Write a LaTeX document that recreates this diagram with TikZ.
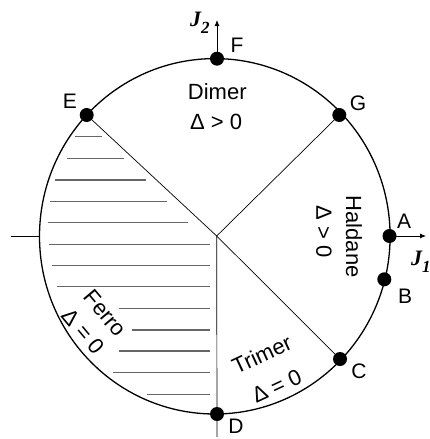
\documentclass[tikz,border=0pt]{standalone}
\usepackage{fontspec}
\setmainfont{Liberation Sans}
\newfontfamily\jfont{Liberation Serif}
\usetikzlibrary{arrows.meta}
\begin{document}
\begin{tikzpicture}[x=1pt,y=-1pt,
  rim/.style={line width=1.3pt,black},
  divider/.style={line width=0.7pt,black},
  hatch/.style={line width=1.1pt,black!60},
  dot/.style={circle,fill=black,inner sep=0pt,minimum size=14pt},
  ptlabel/.style={font=\fontsize{21}{25}\selectfont,inner sep=0pt},
  region/.style={font=\fontsize{22}{26}\selectfont,inner sep=0pt,align=center},
  axislabel/.style={font=\jfont\bfseries\itshape\fontsize{22}{26}\selectfont,inner sep=0pt,anchor=base west},
  axis/.style={line width=0.8pt,-{Latex[length=6pt,width=5pt]}}]
\clip (0,0) rectangle (430,439);
\useasboundingbox (0,0) rectangle (430,439);
% centre and rim
\coordinate (O) at (216.7,236);
\coordinate (R) at (214.8,236.3);
% hatching of the Ferro region
\foreach \y/\xa/\xb in {136.7/75/101.7, 158.3/66.7/124, 180/55/145.7, 201.7/50/166.7,
  222.7/47.7/188.3, 244.3/49.3/210, 265.7/51.7/210, 286.7/56.7/210, 308.3/119.3/210,
  330/131.7/210, 351/119.3/210, 372.7/113.3/210, 394.3/146.7/210}
  {\draw[hatch] (\xa,\y) -- (\xb,\y);}
\draw[rim] (R) ellipse [x radius=175.3, y radius=177.7];
% points on the rim
\node[dot] (E) at (86.7,115) {};
\node[dot] (G) at (339.3,115) {};
\node[dot] (C) at (340,359) {};
\node[dot] (B) at (384.3,279.3) {};
\node[dot] (A) at (389.5,236) {};
\node[dot] (F) at (217,58.7) {};
\node[dot] (D) at (217,414) {};
\coordinate (Dend) at (217,437);
\coordinate (J2tip) at (217,20);
\coordinate (J1tip) at (426,236);
\coordinate (Lstart) at (11,236);
\coordinate (Lend) at (39.5,236);
% dividing lines
\draw[divider] (E.center) -- (O) -- (C.center);
\draw[divider] (G.center) -- (O);
\draw[divider] (O) -- (Dend);
\draw[line width=0.8pt] (Lstart) -- (Lend);
% axes
\draw[axis] (F.center) -- (J2tip);
\draw[axis] (A.center) -- (J1tip);
\node[axislabel] (J2) at (190,26) {J\raisebox{-7pt}{\fontsize{17}{19}\selectfont 2}};
\node[axislabel] (J1) at (411,265) {J\raisebox{-7pt}{\fontsize{17}{19}\selectfont 1}};
% point labels
\node[ptlabel] (lF) at (237,45) {F};
\node[ptlabel] (lE) at (70,101) {E};
\node[ptlabel] (lG) at (358,103) {G};
\node[ptlabel] (lA) at (404,221) {A};
\node[ptlabel] (lB) at (405,296) {B};
\node[ptlabel] (lC) at (359,371) {C};
\node[ptlabel] (lD) at (236,426) {D};
% region labels
\node[region] (dimer) at (217.3,91.7) {Dimer};
\node[region] (dimerd) at (216,121.7) {Δ > 0};
\node[region,rotate=-90] (hald) at (354,236.7) {Haldane};
\node[region,rotate=-90] (haldd) at (324,231.7) {Δ > 0};
\node[region,rotate=-50,font=\fontsize{22}{28.6}\selectfont] (ferro) at (94.2,322.4) {Ferro\\Δ = 0};
\node[region,rotate=25,font=\fontsize{22}{35}\selectfont] (trim) at (269.2,370) {Trimer\\Δ = 0};
\end{tikzpicture}
\end{document}
